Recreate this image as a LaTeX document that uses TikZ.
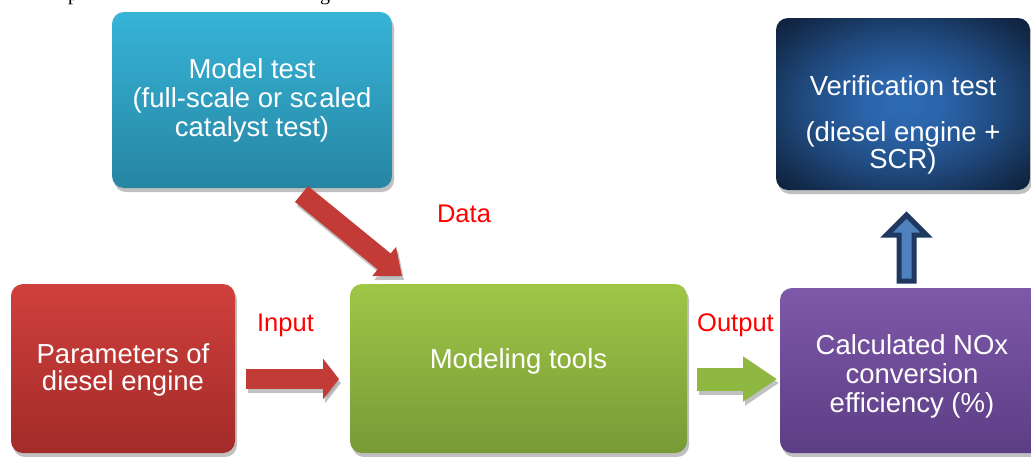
\documentclass[tikz,border=0pt]{standalone}
\usepackage{fontspec}
\setmainfont{Liberation Sans}
\newfontfamily\serifx{Liberation Serif}
\usetikzlibrary{arrows.meta,shadows,calc}
\definecolor{mtop}{HTML}{36B4D7}
\definecolor{mbot}{HTML}{2785A3}
\definecolor{ptop}{HTML}{D0403C}
\definecolor{pbot}{HTML}{A22B29}
\definecolor{ttop}{HTML}{9FC647}
\definecolor{tbot}{HTML}{789A36}
\definecolor{ctop}{HTML}{7E58A9}
\definecolor{cbot}{HTML}{5C3E84}
\definecolor{vcen}{HTML}{2E6BB5}
\definecolor{vedge}{HTML}{081222}
\definecolor{redarrow}{HTML}{C23B37}
\definecolor{greenarrow}{HTML}{8FB840}
\definecolor{upfill}{HTML}{4F81BD}
\definecolor{updraw}{HTML}{1F3860}
\pgfdeclareradialshading{verrad}{\pgfpoint{0bp}{0bp}}{color(0bp)=(vcen); color(8bp)=(vcen!92!vedge); color(20bp)=(vcen!62!vedge); color(30bp)=(vcen!30!vedge); color(38bp)=(vcen!8!vedge); color(44bp)=(vedge); color(70bp)=(vedge)}
\begin{document}
\begin{tikzpicture}[x=1pt,y=-1pt,
  box/.style={rectangle, rounded corners=12pt, inner sep=0pt,
    drop shadow={shadow xshift=2pt, shadow yshift=-4pt, fill=black!45, opacity=.55}},
  boxtext/.style={text=white, align=center, inner sep=0pt, font=\fontsize{27.5}{29}\selectfont},
  lab/.style={text=red, anchor=base, inner sep=0pt, font=\fontsize{25.5}{30}\selectfont},
  frag/.style={anchor=base, inner sep=0pt, font=\serifx\fontsize{20}{24}\selectfont},
  arrowshadow/.style={draw=black!35, opacity=.7},
  upar/.style={fill=upfill, draw=updraw, line width=5pt, line join=miter}]
\useasboundingbox (0,0) rectangle (1031,456);

% clipped fragments of a caption line above the figure
\node[frag] (fragp) at (73,0) {p};
\node[frag] (fragg) at (325,0) {g};

% boxes
\node[box, minimum width=280pt, minimum height=176pt, top color=mtop, bottom color=mbot] (model) at (252,100) {};
\node[box, minimum width=224pt, minimum height=169pt, top color=ptop, bottom color=pbot] (param) at (123,368.5) {};
\node[box, minimum width=337pt, minimum height=169pt, top color=ttop, bottom color=tbot] (tools) at (518.5,368.5) {};
\node[box, minimum width=264pt, minimum height=165pt, top color=ctop, bottom color=cbot] (calc) at (912,370.5) {};
\node[box, minimum width=254pt, minimum height=172pt, shading=verrad] (ver) at (903,104) {};

% box texts
\node[boxtext] (modelt) at (model.center) {Model test\\(full-scale or sc\kern2pt aled\\catalyst test)};
\node[boxtext, font=\fontsize{27.5}{27}\selectfont] (paramt) at ([yshift=-1pt]param.center) {Parameters of\\diesel engine};
\node[boxtext] (toolst) at ([yshift=7pt]tools.center) {Modeling tools};
\node[boxtext] (calct) at ([yshift=-6pt]calc.center) {Calculated NOx\\conversion\\efficiency (\%)};
\node[boxtext, font=\fontsize{27.5}{27}\selectfont] (vert) at ([yshift=-21pt]ver.center) {Verification test\\[19pt](diesel engine +\\SCR)};

% labels
\node[lab] (datal) at (464,222) {Data};
\node[lab] (inl) at (285.5,331) {Input};
\node[lab] (outl) at (735.5,331) {Output};

% arrow end points
\coordinate (dA) at (301.5,194);
\coordinate (dB) at (402,276);
\coordinate (iA) at (246,379);
\coordinate (iB) at (339,379);
\coordinate (oA) at (697,379);
\coordinate (oB) at (777,379);

% shadows of block arrows
\draw[arrowshadow, line width=20.6pt, -{Triangle[length=23pt,width=36pt]}] ([shift={(2,4)}]dA) -- ([shift={(2,4)}]dB);
\draw[arrowshadow, line width=20pt, -{Triangle[length=16pt,width=40pt]}] ([shift={(2,4)}]iA) -- ([shift={(2,4)}]iB);
\draw[arrowshadow, line width=23pt, -{Triangle[length=34pt,width=43pt]}] ([shift={(2,4)}]oA) -- ([shift={(2,4)}]oB);

% block arrows
\draw[draw=redarrow, line width=20.6pt, -{Triangle[length=23pt,width=36pt]}] (dA) -- (dB);
\draw[draw=redarrow, line width=20pt, -{Triangle[length=16pt,width=40pt]}] (iA) -- (iB);
\draw[draw=greenarrow, line width=23pt, -{Triangle[length=34pt,width=43pt]}] (oA) -- (oB);

% up arrow from calc to ver
\coordinate (uS) at (906.5,281);
\coordinate (uN) at (906.5,215);
\draw[upar] ($(uS)+(-7.5,0)$) -- ($(uS)+(-7.5,-46)$) -- ($(uS)+(-20,-46)$) -- (uN)
  -- ($(uS)+(20,-46)$) -- ($(uS)+(7.5,-46)$) -- ($(uS)+(7.5,0)$) -- cycle;
\end{tikzpicture}
\end{document}
